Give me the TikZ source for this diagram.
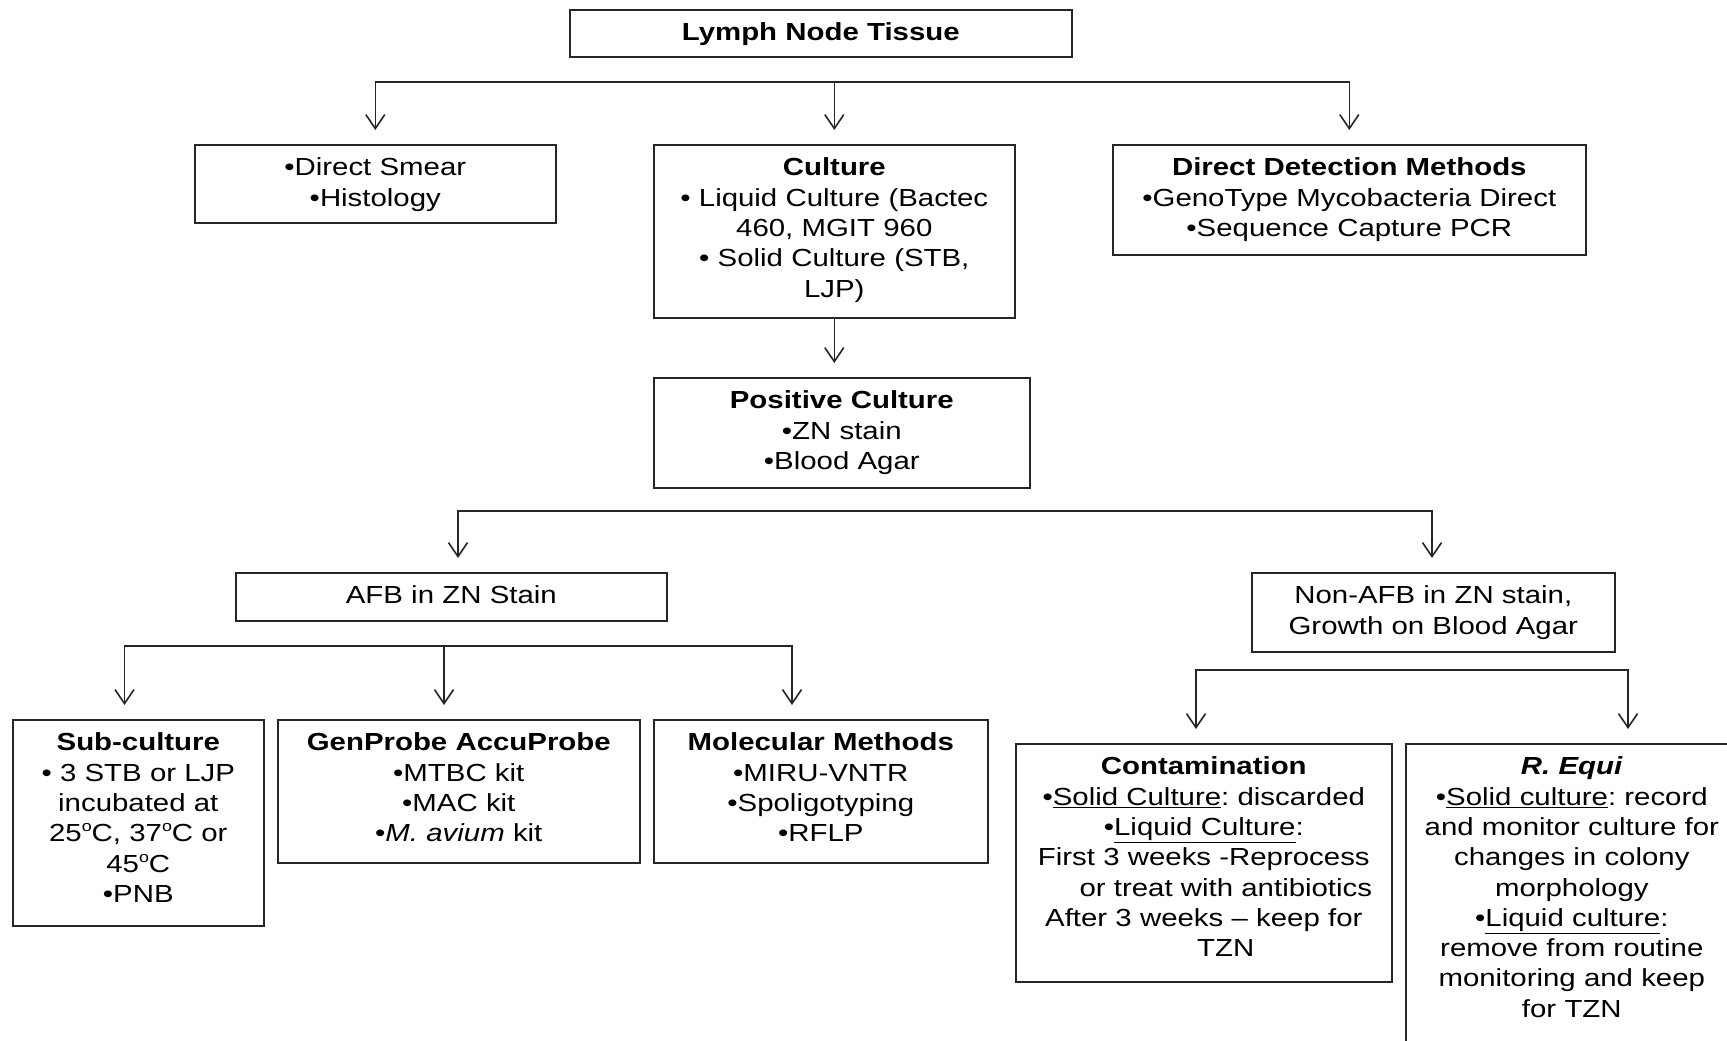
\documentclass[tikz,border=0pt]{standalone}
\usepackage{fontspec}
\setmainfont[FakeStretch=1.19]{Liberation Sans}
\usetikzlibrary{arrows.meta}
\frenchspacing
\newcommand{\degsup}{\raisebox{0.75ex}{\fontsize{15}{15}\selectfont o}}
\begin{document}
\begin{tikzpicture}[x=1pt,y=-1pt,
  box/.style={draw=black!85, line width=1.6pt, anchor=north west, inner xsep=0pt, inner ysep=0pt,
    align=center, text height=31pt, font=\fontsize{24.7}{30.3}\selectfont\frenchspacing},
  conn/.style={draw=black!85, line width=1.6pt, line cap=rect},
  arr/.style={draw=black!85, line width=1.6pt, -{Straight Barb[length=14pt,width=19pt,line width=1.6pt]}, shorten >=14pt}]
\fill[white] (0,0) rectangle (1727,1041);
\useasboundingbox (0,0) rectangle (1727,1041);
\clip (0,0) rectangle (1727,1041);

% boxes
\node[box, text width=502pt, text depth=16pt] (lymph) at (569,9) {\textbf{Lymph Node Tissue}};
\node[box, text width=361pt, text depth=47pt] (smear) at (194,144) {•Direct Smear\\•Histology};
\node[box, text width=361pt, text depth=142pt] (culture) at (653,144) {\textbf{Culture}\\• Liquid Culture (Bactec\\460, MGIT 960\\• Solid Culture (STB,\\LJP)};
\node[box, text width=473pt, text depth=79pt] (ddm) at (1112,144) {\textbf{Direct Detection Methods}\\•GenoType Mycobacteria Direct\\•Sequence Capture PCR};
\node[box, text width=376pt, text depth=79pt] (positive) at (653,377) {\textbf{Positive Culture}\\•ZN stain\\•Blood Agar};
\node[box, text width=431pt, text depth=17pt] (afb) at (235,572) {AFB in ZN Stain};
\node[box, text width=363pt, text depth=48pt] (nonafb) at (1251,572) {Non-AFB in ZN stain,\\Growth on Blood Agar};
\node[box, text width=251pt, text depth=175pt] (sub) at (12,719) {\textbf{Sub-culture}\\• 3 STB or LJP\\incubated at\\25\degsup C, 37\degsup C or\\45\degsup C\\•PNB};
\node[box, text width=362pt, text depth=112pt] (gen) at (277,719) {\textbf{GenProbe AccuProbe}\\•MTBC kit\\•MAC kit\\•\textit{M. avium} kit};
\node[box, text width=334pt, text depth=112pt] (mol) at (653,719) {\textbf{Molecular Methods}\\•MIRU-VNTR\\•Spoligotyping\\•RFLP};
\node[box, text width=376pt, text depth=207pt] (contam) at (1015,743) {\textbf{Contamination}\\•\underline{Solid Culture}: discarded\\•\underline{Liquid Culture}:\\First 3 weeks -Reprocess\\\hspace*{44pt}or treat with antibiotics\\After 3 weeks – keep for\\\hspace*{44pt}TZN};
\node[box, text width=332pt, text depth=360pt] (requi) at (1405,743) {\textbf{\textit{R. Equi}}\\•\underline{Solid culture}: record\\and monitor culture for\\changes in colony\\morphology\\•\underline{Liquid culture}:\\remove from routine\\monitoring and keep\\for TZN};

% bar 1
\coordinate (y1) at (0,82);
\coordinate (b1l) at (smear.north |- y1);
\coordinate (b1m) at (culture.north |- y1);
\coordinate (b1r) at (ddm.north |- y1);
\draw[conn] (b1l) -- (b1r);
\draw[arr] (b1l) -- (smear.north);
\draw[arr] (b1m) -- (culture.north);
\draw[arr] (b1r) -- (ddm.north);

% culture -> positive
\draw[arr] (culture.south) -- (culture.south |- positive.north);

% bar 2
\coordinate (b2l) at (458,511);
\coordinate (b2r) at (1432,511);
\draw[conn] (b2l) -- (b2r);
\draw[arr] (b2l) -- (b2l |- afb.north);
\draw[arr] (b2r) -- (b2r |- nonafb.north);

% bar 3
\coordinate (b3l) at (124.5,646);
\coordinate (b3m) at (444,646);
\coordinate (b3r) at (792,646);
\draw[conn] (b3l) -- (b3r);
\draw[arr] (b3l) -- (b3l |- sub.north);
\draw[arr] (b3m) -- (b3m |- gen.north);
\draw[arr] (b3r) -- (b3r |- mol.north);

% bar 4
\coordinate (b4l) at (1196,670);
\coordinate (b4r) at (1628,670);
\draw[conn] (b4l) -- (b4r);
\draw[arr] (b4l) -- (b4l |- contam.north);
\draw[arr] (b4r) -- (b4r |- requi.north);
\end{tikzpicture}
\end{document}
